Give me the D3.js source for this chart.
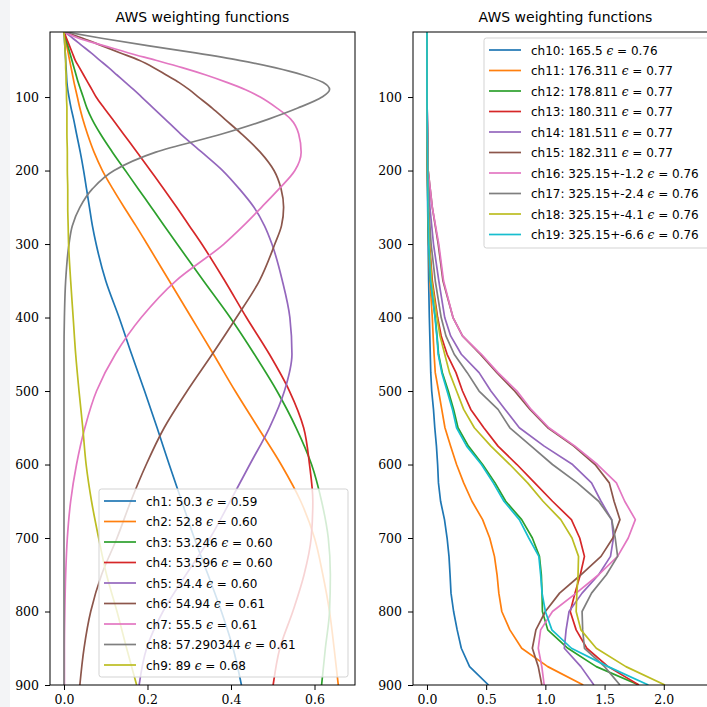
<!DOCTYPE html>
<html>
<head>
<meta charset="utf-8">
<script src="https://cdn.jsdelivr.net/npm/d3@7"></script>
<style>
  body { margin: 0; background: #fff; overflow: hidden; }
  .tick text { font-family: 'DejaVu Serif', serif; font-size: 12.5px; fill: #000; }
  .tick line { stroke: #000; }
</style>
</head>
<body>
<div class="chart"></div>
<script>
const colors = ['#1f77b4', '#ff7f0e', '#2ca02c', '#d62728', '#9467bd', '#8c564b', '#e377c2', '#7f7f7f', '#bcbd22', '#17becf'];

// left panel: channels 1-9
const pressureL = [11, 20, 30, 40, 50, 60, 70, 80, 90, 100, 115, 130, 150, 175, 200, 225, 250, 275, 300, 350, 400, 450, 500, 550, 600, 650, 700, 750, 800, 850, 900];
const ch1 = [0, 0.001, 0.002, 0.003, 0.004, 0.005, 0.006, 0.007, 0.009, 0.012, 0.017, 0.023, 0.03, 0.039, 0.047, 0.054, 0.061, 0.068, 0.077, 0.1, 0.132, 0.162, 0.193, 0.223, 0.252, 0.282, 0.312, 0.345, 0.377, 0.405, 0.425];
const ch2 = [0, 0.003, 0.0065, 0.01, 0.0135, 0.017, 0.0205, 0.024, 0.028, 0.032, 0.038, 0.045, 0.056, 0.072, 0.092, 0.117, 0.144, 0.172, 0.199, 0.252, 0.305, 0.358, 0.41, 0.465, 0.52, 0.567, 0.6, 0.62, 0.636, 0.647, 0.657];
const ch3 = [0, 0.004, 0.009, 0.014, 0.019, 0.024, 0.029, 0.034, 0.04, 0.046, 0.055, 0.067, 0.087, 0.116, 0.147, 0.178, 0.209, 0.24, 0.271, 0.334, 0.398, 0.456, 0.51, 0.556, 0.593, 0.617, 0.633, 0.638, 0.636, 0.626, 0.617];
const ch4 = [0, 0.006, 0.013, 0.02, 0.027, 0.037, 0.047, 0.057, 0.067, 0.077, 0.096, 0.116, 0.142, 0.175, 0.207, 0.239, 0.27, 0.3, 0.33, 0.385, 0.437, 0.492, 0.54, 0.574, 0.588, 0.596, 0.592, 0.575, 0.548, 0.517, 0.501];
const ch5 = [0, 0.021, 0.043, 0.065, 0.086, 0.107, 0.127, 0.147, 0.167, 0.186, 0.214, 0.242, 0.279, 0.33, 0.38, 0.42, 0.455, 0.48, 0.498, 0.523, 0.541, 0.546, 0.528, 0.492, 0.445, 0.398, 0.35, 0.292, 0.237, 0.198, 0.18];
const ch6 = [0, 0.045, 0.09, 0.135, 0.18, 0.215, 0.245, 0.275, 0.3, 0.322, 0.355, 0.385, 0.425, 0.47, 0.503, 0.52, 0.526, 0.521, 0.505, 0.468, 0.413, 0.355, 0.295, 0.24, 0.197, 0.16, 0.127, 0.09, 0.064, 0.048, 0.038];
const ch7 = [0, 0.035, 0.095, 0.155, 0.22, 0.283, 0.34, 0.39, 0.435, 0.47, 0.51, 0.543, 0.562, 0.568, 0.553, 0.515, 0.473, 0.43, 0.383, 0.268, 0.185, 0.123, 0.078, 0.05, 0.03, 0.016, 0.008, 0.004, 0.002, 0.001, 0.001];
const ch8 = [0, 0.09, 0.2, 0.315, 0.42, 0.505, 0.572, 0.62, 0.636, 0.618, 0.56, 0.49, 0.38, 0.22, 0.12, 0.068, 0.038, 0.02, 0.012, 0.004, 0.001, 0, 0, 0, 0, 0, 0, 0, 0, 0, 0];
const ch9 = [0, 0.001, 0.002, 0.003, 0.004, 0.004, 0.005, 0.005, 0.006, 0.006, 0.007, 0.007, 0.007, 0.008, 0.008, 0.009, 0.009, 0.01, 0.011, 0.016, 0.022, 0.028, 0.036, 0.045, 0.053, 0.066, 0.083, 0.102, 0.127, 0.15, 0.174];
const namesL = ['ch1: 50.3', 'ch2: 52.8', 'ch3: 53.246', 'ch4: 53.596', 'ch5: 54.4', 'ch6: 54.94', 'ch7: 55.5', 'ch8: 57.290344', 'ch9: 89'];
const epsL = ['0.59', '0.60', '0.60', '0.60', '0.60', '0.61', '0.61', '0.61', '0.68'];

// right panel: channels 10-19
const pressureR = [11, 100, 200, 250, 300, 350, 400, 425, 450, 475, 500, 525, 550, 575, 600, 625, 650, 675, 700, 725, 750, 775, 800, 825, 850, 875, 900];
const ch10 = [0, 0, 0.003, 0.006, 0.01, 0.014, 0.02, 0.024, 0.028, 0.032, 0.04, 0.055, 0.066, 0.08, 0.09, 0.097, 0.115, 0.148, 0.17, 0.186, 0.195, 0.203, 0.225, 0.255, 0.29, 0.36, 0.52];
const ch11 = [0, 0, 0.004, 0.008, 0.014, 0.025, 0.045, 0.052, 0.06, 0.07, 0.098, 0.125, 0.152, 0.2, 0.25, 0.31, 0.38, 0.47, 0.53, 0.57, 0.592, 0.607, 0.632, 0.7, 0.8, 1.02, 1.32];
const ch12 = [0, 0, 0.005, 0.008, 0.015, 0.03, 0.07, 0.085, 0.098, 0.13, 0.18, 0.225, 0.262, 0.35, 0.47, 0.575, 0.665, 0.8, 0.89, 0.95, 0.966, 0.972, 0.975, 1.02, 1.19, 1.43, 1.79];
const ch13 = [0, 0, 0.005, 0.01, 0.022, 0.045, 0.09, 0.12, 0.17, 0.245, 0.3, 0.37, 0.48, 0.6, 0.76, 0.91, 1.06, 1.22, 1.29, 1.33, 1.295, 1.25, 1.21, 1.26, 1.35, 1.53, 1.79];
const ch14 = [0, 0, 0.01, 0.025, 0.055, 0.1, 0.15, 0.2, 0.29, 0.44, 0.54, 0.66, 0.78, 0.99, 1.23, 1.39, 1.47, 1.56, 1.575, 1.55, 1.45, 1.31, 1.2, 1.175, 1.16, 1.3, 1.41];
const ch15 = [0, 0, 0.01, 0.045, 0.095, 0.135, 0.22, 0.3, 0.45, 0.59, 0.74, 0.87, 1.02, 1.24, 1.42, 1.54, 1.58, 1.63, 1.57, 1.47, 1.3, 1.12, 1.0, 0.92, 0.89, 0.94, 0.97];
const ch16 = [0, 0, 0.01, 0.045, 0.1, 0.14, 0.22, 0.3, 0.46, 0.6, 0.76, 0.88, 1.03, 1.25, 1.44, 1.6, 1.67, 1.76, 1.7, 1.61, 1.45, 1.26, 1.06, 0.96, 0.94, 0.97, 0.99];
const ch17 = [0, 0, 0.008, 0.015, 0.035, 0.07, 0.12, 0.16, 0.23, 0.34, 0.44, 0.6, 0.7, 0.88, 1.06, 1.27, 1.45, 1.56, 1.59, 1.61, 1.515, 1.39, 1.31, 1.315, 1.33, 1.5, 1.63];
const ch18 = [0, 0, 0.005, 0.01, 0.02, 0.04, 0.085, 0.11, 0.15, 0.19, 0.25, 0.31, 0.4, 0.54, 0.7, 0.85, 0.98, 1.13, 1.225, 1.28, 1.276, 1.266, 1.26, 1.3, 1.43, 1.68, 2.01];
const ch19 = [0, 0, 0.005, 0.008, 0.015, 0.03, 0.068, 0.083, 0.095, 0.125, 0.17, 0.215, 0.25, 0.335, 0.46, 0.56, 0.65, 0.78, 0.86, 0.945, 0.96, 0.972, 1.0, 1.055, 1.22, 1.53, 1.87];
const namesR = ['ch10: 165.5', 'ch11: 176.311', 'ch12: 178.811', 'ch13: 180.311', 'ch14: 181.511', 'ch15: 182.311', 'ch16: 325.15+-1.2', 'ch17: 325.15+-2.4', 'ch18: 325.15+-4.1', 'ch19: 325.15+-6.6'];
const epsR = ['0.76', '0.77', '0.77', '0.77', '0.77', '0.77', '0.76', '0.76', '0.76', '0.76'];

const yTicks = [100, 200, 300, 400, 500, 600, 700, 800, 900];
const xTicksL = [0, 0.2, 0.4, 0.6];
const xTicksR = [0, 0.5, 1.0, 1.5, 2.0];

const w = 707;
const h = 707;
const axTop = 32;
const axBottom = 685;

const svg = d3.select('.chart')
    .append('svg')
    .attr('width', w)
    .attr('height', h);

svg.append('rect')
    .attr('x', 0).attr('y', 0)
    .attr('width', 10).attr('height', h)
    .attr('fill', '#f3f4f6');

const y = d3.scaleLinear().domain([11.5, 900]).range([axTop, axBottom]);

const drawPanel = (id, left, right, xDomain, xTicks, pressure, series, names, eps, legendBox) => {
    const x = d3.scaleLinear().domain(xDomain).range([left, right]);

    svg.append('clipPath')
        .attr('id', 'clip-' + id)
        .append('rect')
        .attr('x', left).attr('y', axTop)
        .attr('width', right - left).attr('height', axBottom - axTop);

    const line = d3.line()
        .x((d) => x(d[1]))
        .y((d) => y(d[0]))
        .curve(id === 'l' ? d3.curveMonotoneY : d3.curveLinear);

    svg.append('g')
        .attr('clip-path', 'url(#clip-' + id + ')')
        .selectAll('path')
        .data(series)
        .enter()
        .append('path')
        .attr('d', (s) => line(pressure.map((p, i) => [p, s.values[i]])))
        .attr('fill', 'none')
        .attr('stroke', (s) => s.color)
        .attr('stroke-width', 1.7)
        .attr('stroke-linejoin', 'round');

    svg.append('g')
        .attr('transform', 'translate(' + left + ',0)')
        .call(d3.axisLeft(y).tickValues(yTicks).tickSize(5).tickPadding(6))
        .call((g) => g.select('.domain').remove());

    svg.append('g')
        .attr('transform', 'translate(0,' + axBottom + ')')
        .call(d3.axisBottom(x).tickValues(xTicks).tickFormat(d3.format('.1f')).tickSize(5).tickPadding(5))
        .call((g) => g.select('.domain').remove());

    svg.append('rect')
        .attr('x', left).attr('y', axTop)
        .attr('width', right - left).attr('height', axBottom - axTop)
        .attr('fill', 'none')
        .attr('stroke', '#000')
        .attr('stroke-width', 1);

    svg.append('text')
        .attr('x', (left + right) / 2)
        .attr('y', 22)
        .attr('text-anchor', 'middle')
        .style('font-family', 'DejaVu Sans')
        .style('font-size', '14px')
        .text('AWS weighting functions');

    // legend
    const lg = svg.append('g');
    lg.append('rect')
        .attr('x', legendBox.x).attr('y', legendBox.y)
        .attr('width', legendBox.w).attr('height', legendBox.h)
        .attr('rx', 2.5)
        .attr('fill', 'rgba(255,255,255,0.8)')
        .attr('stroke', '#d3d3d3');

    const rows = lg.selectAll('g.row')
        .data(series)
        .enter()
        .append('g')
        .attr('class', 'row')
        .attr('transform', (s, i) => 'translate(' + legendBox.x + ',' + (legendBox.y + 12 + i * 20.5) + ')');

    rows.append('line')
        .attr('x1', 5).attr('x2', 37)
        .attr('stroke', (s) => s.color)
        .attr('stroke-width', 1.7);

    const label = rows.append('text')
        .attr('x', 47)
        .attr('y', 4.5)
        .style('font-family', 'DejaVu Sans')
        .style('font-size', '12px');
    label.append('tspan').text((s, i) => names[i] + ' ');
    label.append('tspan')
        .style('font-family', 'DejaVu Serif')
        .style('font-style', 'italic')
        .text('ϵ');
    label.append('tspan').text((s, i) => ' = ' + eps[i]);
};

const seriesL = [ch1, ch2, ch3, ch4, ch5, ch6, ch7, ch8, ch9].map((v, i) => ({ values: v, color: colors[i] }));
const seriesR = [ch10, ch11, ch12, ch13, ch14, ch15, ch16, ch17, ch18, ch19].map((v, i) => ({ values: v, color: colors[i] }));

drawPanel('l', 50, 355, [-0.0335, 0.697], xTicksL, pressureL, seriesL, namesL, epsL, { x: 99, y: 489, w: 249, h: 188 });
drawPanel('r', 413, 718, [-0.118, 2.458], xTicksR, pressureR, seriesR, namesR, epsR, { x: 484, y: 38, w: 229, h: 210 });
</script>
</body>
</html>
